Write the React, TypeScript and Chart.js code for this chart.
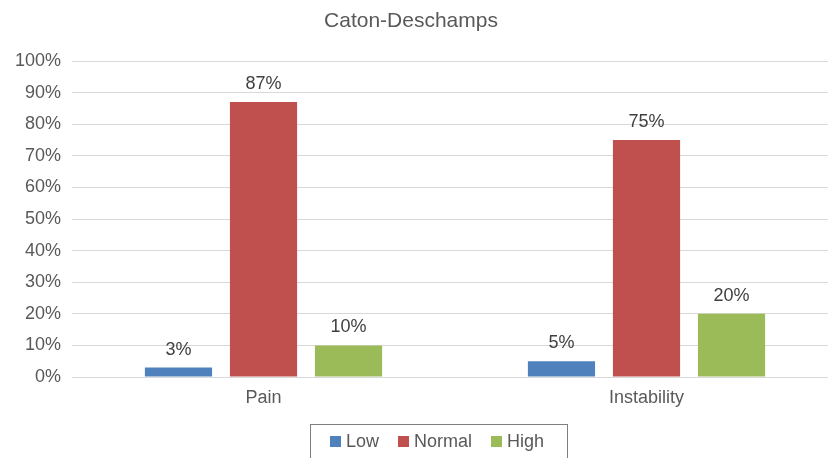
import React, { useEffect, useRef } from "react";
import { Chart, registerables } from "chart.js";

Chart.register(...registerables);

const FONT = '"Liberation Sans", Arial, Helvetica, sans-serif';

const titleText = "Caton-Deschamps";
const categories = ["Pain", "Instability"];
const seriesNames = ["Low", "Normal", "High"];
const lowValues = [3, 5];
const normalValues = [87, 75];
const highValues = [10, 20];
const seriesColors = ["#4F81BD", "#C0504D", "#9BBB59"];
const yMin = 0;
const yMax = 100;
const yStep = 10;

const dataLabelPlugin = {
  id: "dataLabels",
  afterDatasetsDraw(chart: any) {
    const ctx = chart.ctx;
    ctx.save();
    ctx.font = `18px ${FONT}`;
    ctx.fillStyle = "#404040";
    ctx.textAlign = "center";
    ctx.textBaseline = "alphabetic";
    chart.data.datasets.forEach((ds: any, i: number) => {
      const meta = chart.getDatasetMeta(i);
      meta.data.forEach((el: any, j: number) => {
        ctx.fillText(ds.data[j] + "%", el.x, el.y - 13);
      });
    });
    ctx.restore();
  },
};

const boxedLegendPlugin = {
  id: "boxedLegend",
  afterDraw(chart: any) {
    const ctx = chart.ctx;
    const H = chart.height;
    const boxTop = H - 34;
    const centerX = 437;
    const sq = 11;
    const gapText = 5;
    const gapItem = 19;
    ctx.save();
    ctx.font = `18px ${FONT}`;
    const datasets = chart.data.datasets;
    const widths = datasets.map(
      (ds: any) => sq + gapText + ctx.measureText(ds.label).width
    );
    const total =
      widths.reduce((a: number, b: number) => a + b, 0) +
      gapItem * (widths.length - 1);
    ctx.strokeStyle = "#7F7F7F";
    ctx.lineWidth = 1;
    ctx.strokeRect(310.5, boxTop + 0.5, 257, 60);
    let x = centerX - total / 2;
    const baseline = boxTop + 23;
    ctx.textAlign = "left";
    ctx.textBaseline = "alphabetic";
    datasets.forEach((ds: any, i: number) => {
      ctx.fillStyle = ds.backgroundColor;
      ctx.fillRect(Math.round(x), baseline - 11, sq, sq);
      ctx.fillStyle = "#595959";
      ctx.fillText(ds.label, x + sq + gapText, baseline);
      x += widths[i] + gapItem;
    });
    ctx.restore();
  },
};

export default function App() {
  const canvasRef = useRef<HTMLCanvasElement | null>(null);

  useEffect(() => {
    const canvas = canvasRef.current;
    if (!canvas) return;
    Chart.defaults.font.family = FONT;
    const seriesValues = [lowValues, normalValues, highValues];
    const chart = new Chart(canvas, {
      type: "bar",
      data: {
        labels: categories,
        datasets: seriesNames.map((name, i) => ({
          label: name,
          data: seriesValues[i],
          backgroundColor: seriesColors[i],
          borderWidth: 0,
          categoryPercentage: 0.666,
          barPercentage: 0.79,
        })),
      },
      options: {
        responsive: false,
        animation: false,
        layout: { padding: { left: -16, right: 0, top: 0, bottom: 39.4 } },
        plugins: {
          legend: { display: false },
          tooltip: { enabled: false },
          title: {
            display: true,
            text: titleText,
            color: "#595959",
            font: { size: 21, weight: "normal", family: FONT },
            padding: { top: 9, bottom: 26.8 },
          },
        },
        scales: {
          x: {
            grid: { display: false, drawTicks: false },
            border: { display: false },
            ticks: {
              color: "#595959",
              font: { size: 18, family: FONT },
              padding: 10,
            },
          },
          y: {
            min: yMin,
            max: yMax,
            grid: { color: "#D9D9D9", lineWidth: 1, drawTicks: false },
            border: { display: false },
            ticks: {
              stepSize: yStep,
              color: "#595959",
              font: { size: 18, family: FONT },
              padding: 11,
              callback: (v: any) => v + "%",
            },
            afterFit: (scale: any) => {
              scale.width = 88;
            },
          },
        },
      },
      plugins: [dataLabelPlugin, boxedLegendPlugin],
    });
    return () => chart.destroy();
  }, []);

  return (
    <div
      style={{
        position: "fixed",
        left: 0,
        top: 0,
        width: 828,
        height: 458,
        overflow: "hidden",
        background: "#fff",
      }}
    >
      <canvas
        ref={canvasRef}
        width={838}
        height={458}
        style={{ display: "block", width: 838, height: 458 }}
      />
    </div>
  );
}
